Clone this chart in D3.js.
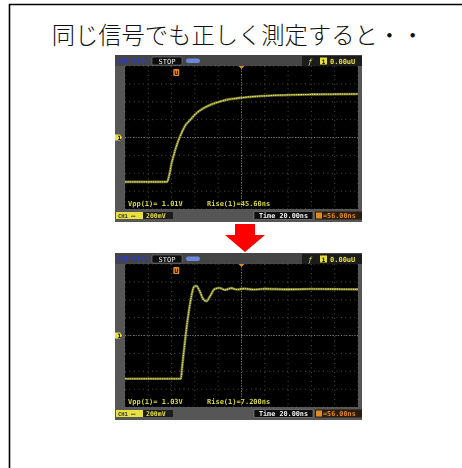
<!DOCTYPE html>
<html><head><meta charset="utf-8">
<script src="https://cdn.jsdelivr.net/npm/d3@7"></script>
<style>
html,body{margin:0;padding:0;background:#fff;}
svg{display:block;}
</style></head>
<body>
<svg id="c" width="462" height="468"></svg>
<script>
// ---- data ----
const title = "同じ信号でも正しく測定すると・・";
const gridTimes = [-100,-80,-60,-40,-20,0,20,40,60,80,100];   // ns (20 ns/div)
const gridVolts = [-800,-600,-400,-200,0,200,400,600,800];     // mV (200 mV/div)

// before: slow rise (ns, mV)
const beforeT = [-100,-64,-62,-60,-58,-56,-51,-48,-44,-40,-36,-27,-16,2,30,60,100];
const beforeV = [-496,-496,-420,-288,-190,-102,64,140,196,256,300,364,412,448,472,482,486];
// after: fast rise with ringing (ns, mV)
const afterT = [-100,-52,-51,-49,-46,-43,-41,-39,-36,-33,-30,-27,-23,-19,-14,-9,-4,2,10,20,40,60,100];
const afterV = [-484,-484,-360,-120,200,440,540,556,500,410,384,440,520,532,510,530,514,524,514,522,516,520,516];

const panels = [
  {t: beforeT, v: beforeV, vpp: "Vpp(1)= 1.01V", rise: "Rise(1)=45.60ns"},
  {t: afterT,  v: afterV,  vpp: "Vpp(1)= 1.03V", rise: "Rise(1)=7.200ns"}
];
const topLabels = {status: "STOP", brand: "GWINSTEK", trig: "0.00uU", time: "Time 20.00ns", pos: "⊕=56.00ns", ch: "CH1", scale: "200mV"};

// ---- drawing ----
const svg = d3.select("#c");
const defs = svg.append("defs");
defs.append("filter").attr("id","blur").append("feGaussianBlur").attr("stdDeviation",0.4);
defs.append("filter").attr("id","glow").append("feGaussianBlur").attr("stdDeviation",0.6);

// frame lines
svg.append("path").attr("d","M9.5,468 V4.5 H462").attr("fill","none").attr("stroke","#000").attr("stroke-width",1.6);

svg.append("text").attr("x",238).attr("y",44).attr("text-anchor","middle")
  .attr("font-family","'Noto Sans CJK JP'").attr("font-weight",300).attr("font-size",23.3)
  .attr("fill","#111").text(title);

const tops = [55, 253];
panels.forEach((p, i) => {
  const y0 = tops[i];
  const g = svg.append("g").attr("filter","url(#blur)");
  const gx0 = 125, gx1 = 358, gy0 = y0 + 11, gy1 = y0 + 154;
  const x = d3.scaleLinear().domain([-100,100]).range([gx0,gx1]);
  const y = d3.scaleLinear().domain([-800,800]).range([gy1,gy0]);

  // bezel
  g.append("rect").attr("x",115).attr("y",y0).attr("width",247).attr("height",167).attr("fill","#575757");
  g.append("rect").attr("x",115).attr("y",y0).attr("width",247).attr("height",11).attr("fill","#454545");
  g.append("rect").attr("x",gx0).attr("y",gy0).attr("width",gx1-gx0).attr("height",gy1-gy0).attr("fill","#000");

  // grid
  g.selectAll(null).data(gridTimes).join("line")
    .attr("x1",d=>x(d)).attr("x2",d=>x(d)).attr("y1",gy0).attr("y2",gy1)
    .attr("stroke","#6a6a6a").attr("stroke-width",0.8).attr("stroke-dasharray","0.9,3.6");
  g.selectAll(null).data(gridVolts).join("line")
    .attr("y1",d=>y(d)).attr("y2",d=>y(d)).attr("x1",gx0).attr("x2",gx1)
    .attr("stroke","#6a6a6a").attr("stroke-width",0.8).attr("stroke-dasharray","0.9,3.6");
  g.append("line").attr("x1",x(0)).attr("x2",x(0)).attr("y1",gy0).attr("y2",gy1)
    .attr("stroke","#8a8a8a").attr("stroke-width",1).attr("stroke-dasharray","0.9,1.8");
  g.append("line").attr("y1",y(0)).attr("y2",y(0)).attr("x1",gx0).attr("x2",gx1)
    .attr("stroke","#8a8a8a").attr("stroke-width",1).attr("stroke-dasharray","0.9,1.8");

  // trace
  const pts = p.t.map((t,k)=>[t,p.v[k]]);
  const line = d3.line().x(d=>x(d[0])).y(d=>y(d[1])).curve(d3.curveMonotoneX);
  svg.append("path").datum(pts).attr("d",line).attr("fill","none")
    .attr("stroke","#b8b848").attr("stroke-width",2.6).attr("opacity",0.6).attr("filter","url(#glow)");
  svg.append("path").datum(pts).attr("d",line).attr("fill","none")
    .attr("stroke","#e0e06a").attr("stroke-width",1.1).attr("stroke-dasharray","1.6,0.7");

  // markers
  g.append("path").attr("d",`M${x(0)-3},${gy0} h6 l-3,3 z`).attr("fill","#e08a20");
  g.append("rect").attr("x",x(-56)-3).attr("y",gy0+3).attr("width",6).attr("height",7).attr("rx",1).attr("fill","#e08a20");
  g.append("text").attr("x",x(-56)).attr("y",gy0+9).attr("text-anchor","middle").attr("font-size",6)
    .attr("font-family","DejaVu Sans Mono").attr("font-weight","bold").attr("fill","#000").text("U");
  g.append("path").attr("d",`M115,${y(0)-3} h5 l2,3 l-2,3 h-5 z`).attr("fill","#e8e040");
  g.append("text").attr("x",117.5).attr("y",y(0)+2.2).attr("font-size",6).attr("font-family","DejaVu Sans Mono")
    .attr("font-weight","bold").attr("fill","#000").text("1");

  const mono = "DejaVu Sans Mono";
  // top bar
  g.append("text").attr("x",117).attr("y",y0+8).attr("font-size",6.5).attr("font-family",mono).attr("font-weight","bold")
    .attr("fill","#2a3ad0").text(topLabels.brand);
  g.append("rect").attr("x",152).attr("y",y0+2).attr("width",30).attr("height",8).attr("rx",1).attr("fill","#111").attr("stroke","#888").attr("stroke-width",0.5);
  g.append("text").attr("x",167).attr("y",y0+8.5).attr("text-anchor","middle").attr("font-size",7).attr("font-family",mono)
    .attr("fill","#eee").text(topLabels.status);
  g.append("rect").attr("x",186).attr("y",y0+3.5).attr("width",14).attr("height",4.5).attr("rx",2.2).attr("fill","#6a8ad8");
  g.append("rect").attr("x",302).attr("y",y0+1).attr("width",60).attr("height",10).attr("fill","#1a1a1a");
  g.append("text").attr("x",308).attr("y",y0+8.5).attr("font-size",7).attr("font-family",mono).attr("font-style","italic")
    .attr("fill","#e8e040").text("ƒ");
  g.append("rect").attr("x",320).attr("y",y0+2.5).attr("width",7).attr("height",7).attr("fill","#e8e040");
  g.append("text").attr("x",323.5).attr("y",y0+8.5).attr("text-anchor","middle").attr("font-size",6).attr("font-family",mono)
    .attr("font-weight","bold").attr("fill","#000").text("1");
  g.append("text").attr("x",330).attr("y",y0+8.5).attr("font-size",7).attr("font-family",mono).attr("font-weight","bold")
    .attr("fill","#e8e040").text(topLabels.trig);

  // measurement texts
  g.append("text").attr("x",128).attr("y",gy1-3).attr("font-size",7).attr("font-family",mono).attr("font-weight","bold")
    .attr("fill","#d8d840").text(p.vpp);
  g.append("text").attr("x",207).attr("y",gy1-3).attr("font-size",7).attr("font-family",mono).attr("font-weight","bold")
    .attr("fill","#d8d840").text(p.rise);

  // bottom bar
  const by = gy1 + 3;
  g.append("rect").attr("x",116).attr("y",by).attr("width",27).attr("height",7).attr("fill","#e8e040");
  g.append("text").attr("x",118).attr("y",by+5.8).attr("font-size",5.5).attr("font-family",mono).attr("font-weight","bold")
    .attr("fill","#333").text(topLabels.ch+" ⎓");
  g.append("rect").attr("x",143).attr("y",by).attr("width",30).attr("height",7).attr("fill","#1a1a1a");
  g.append("text").attr("x",146).attr("y",by+6).attr("font-size",6.5).attr("font-family",mono).attr("font-weight","bold")
    .attr("fill","#e8e040").text(topLabels.scale);
  g.append("rect").attr("x",254).attr("y",by-0.5).attr("width",59).attr("height",8).attr("rx",1).attr("fill","#111").attr("stroke","#999").attr("stroke-width",0.5);
  g.append("text").attr("x",283.5).attr("y",by+6).attr("text-anchor","middle").attr("font-size",6.8).attr("font-family",mono)
    .attr("font-weight","bold").attr("fill","#eee").text(topLabels.time);
  g.append("rect").attr("x",315).attr("y",by-0.5).attr("width",47).attr("height",8).attr("fill","#2a1a08");
  g.append("rect").attr("x",316).attr("y",by+0.5).attr("width",6).attr("height",6).attr("fill","#e08a20");
  g.append("text").attr("x",323).attr("y",by+6).attr("font-size",6.8).attr("font-family",mono).attr("font-weight","bold")
    .attr("fill","#e08a20").text(topLabels.pos.slice(1));
});

// red arrow
svg.append("path").attr("d","M235,224 H255 V235 H265 L245,252 L225,235 H235 Z").attr("fill","#ff0000");
</script>
</body></html>
